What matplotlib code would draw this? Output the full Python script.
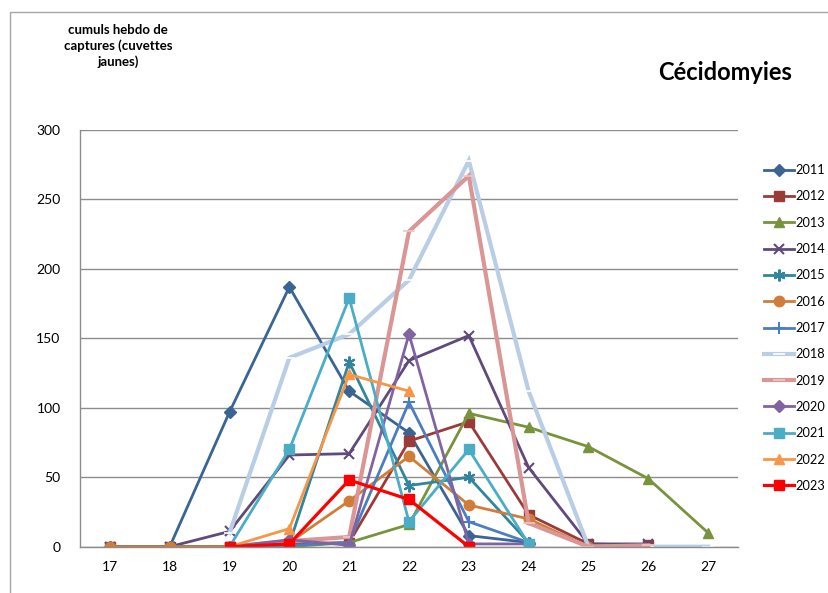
import numpy as np
import matplotlib
matplotlib.use("Agg")
import matplotlib.pyplot as plt
from matplotlib.patches import Rectangle

plt.rcParams['font.family'] = ['Lato', 'DejaVu Sans']

# semaines
weeks = [17, 18, 19, 20, 21, 22, 23, 24, 25, 26, 27]
years = ['2011', '2012', '2013', '2014', '2015', '2016', '2017',
         '2018', '2019', '2020', '2021', '2022', '2023']

N = None
s2011 = [0, 0, 97, 187, 112, 82, 8, 3, N, N, N]
s2012 = [0, 0, 0, 2, 3, 76, 90, 23, 2, 1, N]
s2013 = [0, 0, 0, 0, 3, 16, 96, 86, 72, 49, 10]
s2014 = [0, 0, 11, 66, 67, 134, 152, 57, 2, 2, N]
s2015 = [0, 0, 0, 2, 133, 44, 50, 3, N, N, N]
s2016 = [0, 0, 0, 3, 33, 65, 30, 20, 0, N, N]
s2017 = [N, N, 0, 1, 3, 104, 18, 3, N, N, N]
s2018 = [N, N, 10, 136, 153, 192, 278, 112, 0, 0, 0]
s2019 = [N, N, 0, 4, 7, 227, 267, 17, 0, 1, N]
s2020 = [N, N, 0, 5, 1, 153, 2, 2, N, N, N]
s2021 = [N, N, 0, 70, 179, 18, 70, 2, N, N, N]
s2022 = [N, N, 0, 13, 124, 112, N, N, N, N, N]
s2023 = [N, N, 0, 2, 48, 34, 0, N, N, N, N]

series = [s2011, s2012, s2013, s2014, s2015, s2016, s2017,
          s2018, s2019, s2020, s2021, s2022, s2023]

colors = ['#3A6494', '#9B3B38', '#77933C', '#604A7B', '#31859C', '#D17D3A',
          '#4A7EBE', '#B9CDE5', '#D99694', '#8064A2', '#4BACC6', '#F79646',
          '#FF0000']
markers = ['D', 's', '^', 'x', (6, 2, 0), 'o', '+', '_', '_', 'D', 's', '^', 's']
msizes = [6.5, 7.5, 7.5, 7.5, 8.5, 7.5, 8.5, 9, 9, 6.5, 7.5, 7.5, 7.5]
lwidths = [2.0, 2.0, 2.0, 2.0, 2.0, 2.0, 2.0, 3.0, 3.0, 2.0, 2.0, 2.0, 2.3]

fig = plt.figure(figsize=(8.29, 5.93), dpi=100)
fig.patches.append(Rectangle((10 / 829, -0.1), 1.2, 1 - 12 / 593 + 0.1,
                             transform=fig.transFigure, fill=False,
                             edgecolor='#A6A6A6', linewidth=1.0))

ax = fig.add_axes([80 / 829, 1 - 546.7 / 593, 658 / 829, (546.7 - 130) / 593])
x = np.arange(len(weeks))

for yr, s, c, m, ms, lw in zip(years, series, colors, markers, msizes, lwidths):
    y = np.array([np.nan if v is None else v for v in s], dtype=float)
    mew = 1.5 if m in ('x', '+', '_', (6, 2, 0)) else 1.0
    if m == '_':
        mec = '#FFFFFF' if yr == '2018' else '#EFC8C7'
        mew = 1.2
    else:
        mec = c
    ax.plot(x, y, color=c, lw=lw, marker=m, ms=ms, mec=mec, mfc=c,
            mew=mew, label=yr, solid_joinstyle='miter')

ax.set_xlim(-0.5, len(weeks) - 0.5)
ax.set_ylim(0, 300)
ax.set_xticks(x)
ax.set_xticklabels([str(w) for w in weeks])
ax.set_yticks([0, 50, 100, 150, 200, 250, 300])
ax.tick_params(length=0, labelsize=10, pad=10)
ax.tick_params(axis='y', pad=14)
ax.grid(axis='y', color='#8C8C8C', lw=1.0)
ax.set_axisbelow(True)
for side in ('top', 'right'):
    ax.spines[side].set_visible(False)
for side in ('left', 'bottom'):
    ax.spines[side].set_color('#8C8C8C')
    ax.spines[side].set_linewidth(1.0)

leg = fig.legend(loc='upper left', bbox_to_anchor=(759 / 829, 1 - 159 / 593),
                 frameon=False, fontsize=9.2, handlelength=2.35,
                 handletextpad=0.1, labelspacing=1.12, borderaxespad=0)

fig.text(118 / 829, 1 - 46 / 593, 'cumuls hebdo de\ncaptures (cuvettes\njaunes)',
         ha='center', va='center', fontsize=9.5, fontweight='bold',
         linespacing=1.3)
fig.text(725 / 829, 1 - 72 / 593, 'Cécidomyies', ha='center', va='center',
         fontsize=17, fontweight='bold')

fig.savefig('out.png', dpi=100)
